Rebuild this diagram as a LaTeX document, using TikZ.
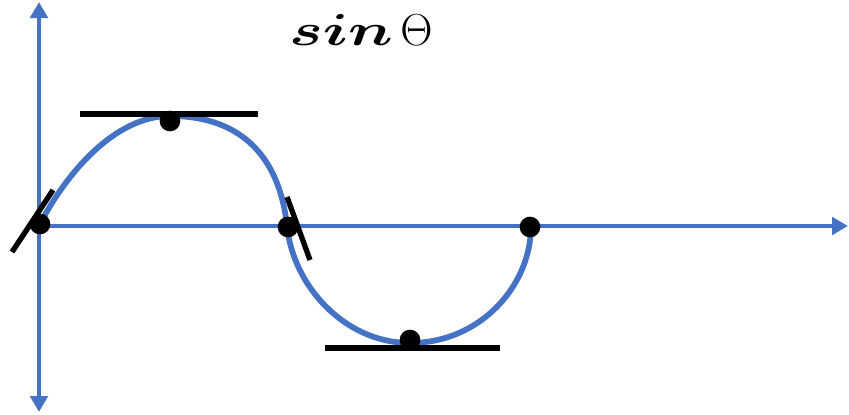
\documentclass[tikz,border=0pt]{standalone}
\usepackage{amsmath,bm}
\usetikzlibrary{arrows.meta}
\usepackage{xcolor}
\definecolor{cblue}{HTML}{4472C4}

\begin{document}
\begin{tikzpicture}[x=0.75pt,y=-0.75pt,
    axis/.style={draw=cblue, line width=3.6pt},
    wave/.style={draw=cblue, line width=4.3pt},
    tangent/.style={draw=black, line width=4pt},
    dot/.style={circle, fill=black, inner sep=0pt, minimum size=15.5pt}]
  \useasboundingbox (0,0) rectangle (849,414);

  % axes
  \coordinate (ytop) at (39,2);
  \coordinate (ybot) at (39,412);
  \coordinate (xbeg) at (39,226);
  \coordinate (xend) at (848,226);
  \draw[axis, {Triangle[width=13pt,length=12pt]}-{Triangle[width=13pt,length=12pt]}] (ybot) -- (ytop);
  \draw[axis, -{Triangle[width=13pt,length=12pt]}] (xbeg) -- (xend);

  % sine curve
  \draw[wave] (39,226) .. controls (66,173) and (115,116) .. (170,116)
    .. controls (245,116) and (280,161) .. (287,226)
    .. controls (293,286) and (345,343) .. (410,343)
    .. controls (480,343) and (531,286) .. (531,226);

  % tangents
  \coordinate (t1a) at (12,252);  \coordinate (t1b) at (53,190);
  \coordinate (t2a) at (80,114);  \coordinate (t2b) at (258,114);
  \coordinate (t3a) at (287,197); \coordinate (t3b) at (310,260);
  \coordinate (t4a) at (325,348); \coordinate (t4b) at (500,348);
  \draw[tangent] (t1a) -- (t1b);
  \draw[tangent] (t2a) -- (t2b);
  \draw[tangent] (t3a) -- (t3b);
  \draw[tangent] (t4a) -- (t4b);

  % points
  \node[dot] (p0) at (40,224) {};
  \node[dot] (p1) at (170,121) {};
  \node[dot] (p2) at (288,227) {};
  \node[dot] (p3) at (410,340) {};
  \node[dot] (p4) at (530,227) {};

  \node[anchor=base, font=\Huge] (title) at (361,45)
    {\scalebox{1.35}{\scalebox{1.4}[1]{$\bm{sin}$}\,$\Theta$}};
\end{tikzpicture}
\end{document}
